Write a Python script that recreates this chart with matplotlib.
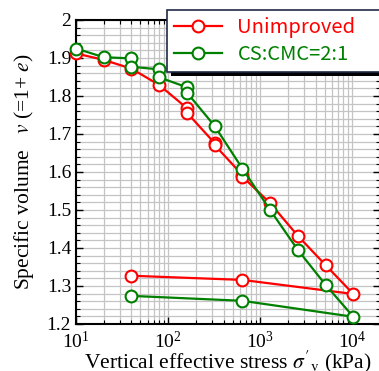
import matplotlib
matplotlib.use("Agg")
import matplotlib.pyplot as plt
from matplotlib.ticker import LogLocator, MultipleLocator, FuncFormatter, NullFormatter
from matplotlib.patches import Rectangle
import numpy as np

plt.rcParams["mathtext.fontset"] = "stix"

# Data
stress_unimproved = [10, 20, 40, 80, 160, 160, 320, 320, 640, 640, 1280, 2560, 5120, 10240, 640, 40]
v_unimproved = [1.912, 1.895, 1.872, 1.829, 1.768, 1.756, 1.676, 1.671, 1.592, 1.588, 1.518, 1.432, 1.355, 1.279, 1.316, 1.327]
stress_cs = [10, 20, 40, 40, 80, 80, 160, 160, 320, 640, 1280, 2560, 5120, 10240, 640, 40]
v_cs = [1.925, 1.902, 1.899, 1.877, 1.870, 1.849, 1.823, 1.809, 1.721, 1.609, 1.500, 1.395, 1.303, 1.219, 1.261, 1.274]
labels = ["Unimproved", "CS:CMC=2:1"]
colors = ["#ff0000", "#008000"]

W, H = 379, 371
fig = plt.figure(figsize=(W / 100, H / 100), dpi=100)
ax = fig.add_axes([76 / W, (H - 324) / H, (380 - 76) / W, (324 - 20) / H])

serif = "Liberation Serif"
for xs, ys, c, lab in [(stress_unimproved, v_unimproved, colors[0], labels[0]),
                       (stress_cs, v_cs, colors[1], labels[1])]:
    ax.plot(xs, ys, color=c, lw=1.6, marker="o", ms=8.5, mfc="white",
            mec=c, mew=1.5, label=lab, zorder=3, clip_on=False)

ax.set_xscale("log")
ax.set_xlim(10, 10 ** 4.3)
ax.set_ylim(1.2, 2.0)
ax.xaxis.set_major_locator(LogLocator(base=10, numticks=10))
ax.xaxis.set_minor_locator(LogLocator(base=10, subs=np.arange(2, 10), numticks=20))
ax.xaxis.set_minor_formatter(NullFormatter())
ax.yaxis.set_major_locator(MultipleLocator(0.1))
ax.yaxis.set_minor_locator(MultipleLocator(0.02))
ax.yaxis.set_major_formatter(FuncFormatter(lambda v, p: "%g" % round(v, 2)))

ax.grid(True, which="both", color="#c4c4c4", lw=0.9, zorder=0)
ax.set_axisbelow(True)
ax.tick_params(which="both", direction="in", top=True, right=True, color="black")
ax.tick_params(which="major", length=5, width=1.0, labelsize=14)
ax.tick_params(axis="x", which="major", pad=5)
ax.tick_params(which="minor", length=3, width=0.8)
for lab in ax.get_xticklabels() + ax.get_yticklabels():
    lab.set_fontfamily(serif)
for s in ax.spines.values():
    s.set_linewidth(1.5)

ax.set_xlabel(r"Vertical effective stress $\sigma'_\mathrm{v}$ (kPa)", fontsize=15.5,
              fontfamily=serif, labelpad=-2.5)
ax.set_ylabel(r"Specific volume   $v$ (=1+ $e$)", fontsize=15.5, fontfamily=serif, labelpad=8)

leg = ax.legend(loc="upper left", bbox_to_anchor=(91 / 304, 1.033, 0.74, 0), mode="expand",
                prop={"family": ["Noto Sans CJK JP", "DejaVu Sans"], "size": 14.5}, frameon=True,
                fancybox=False, shadow=False, edgecolor="#1f2a44", framealpha=1,
                handlelength=2.4, borderpad=0.35, labelspacing=0.3, handletextpad=0.75,
                borderaxespad=0)
leg.get_frame().set_linewidth(1.2)
leg.set_zorder(10)
for t, c in zip(leg.get_texts(), colors):
    t.set_color(c)

# legend shadow
ax.add_patch(Rectangle((171 / W, (H - 76) / H), 0.6, 14 / H, transform=fig.transFigure,
                       facecolor="black", edgecolor="none", zorder=9, clip_on=False))

fig.savefig("out.png", dpi=100)
